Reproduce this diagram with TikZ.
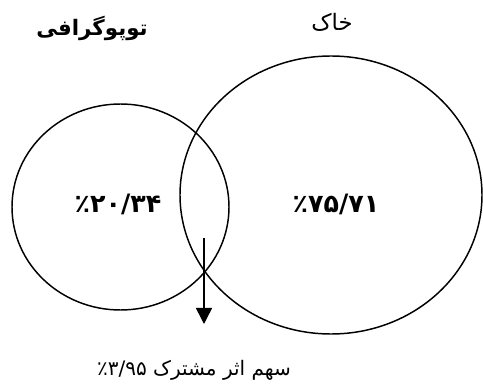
\documentclass[tikz,border=0pt]{standalone}
\usepackage{fontspec}
\usetikzlibrary{arrows.meta,shapes.geometric}
\newfontfamily\arabicfont[Script=Arabic]{DejaVu Sans}
\TeXXeTstate=1
\begin{document}
\begin{tikzpicture}[x=0.75pt,y=-0.75pt,
  vennset/.style={draw, ellipse, line width=1.1pt, inner sep=0pt, outer sep=0pt},
  titletext/.style={font=\arabicfont\fontsize{15}{17}\selectfont, inner sep=0pt, anchor=base},
  valtext/.style={font=\arabicfont\bfseries\fontsize{19}{21}\selectfont, inner sep=0pt, anchor=base},
  pointer/.style={line width=1.1pt, -{Triangle[width=12pt,length=12pt]}}]
\useasboundingbox (0,0) rectangle (483,385);
\node[vennset, minimum width=162.75pt, minimum height=154.5pt] (lc) at (120.5,207) {};
\node[vennset, minimum width=226.5pt, minimum height=208.5pt] (rc) at (331,195) {};
\node[titletext, font=\arabicfont\bfseries\fontsize{16}{18}\selectfont] (topo) at (92,36) {\beginR توپوگرافی\endR};
\node[titletext, font=\arabicfont\fontsize{17}{19}\selectfont] (soil) at (332,31) {\beginR خاک\endR};
\node[valtext] (lval) at (118,213) {\mbox{٪}\mbox{۲۰/۳۴}};
\node[valtext] (rval) at (336,213) {\mbox{٪}\mbox{۷۵/۷۱}};
\coordinate (as) at (204,238);
\coordinate (ae) at (204,324);
\draw[pointer] (as) -- (ae);
\node[titletext] (lab) at (194,375) {\beginR سهم اثر مشترک \beginL\mbox{٪}\mbox{۳/۹۵}\endL\endR};
\end{tikzpicture}
\end{document}
